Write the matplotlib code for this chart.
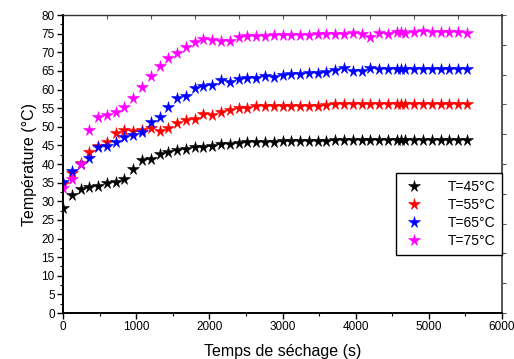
import matplotlib
matplotlib.use("Agg")
import matplotlib.pyplot as plt
from matplotlib.ticker import MultipleLocator

# drying time (s), one reading every 120 s plus an extra one at 4620 s
temps = [0, 120, 240, 360, 480, 600, 720, 840, 960, 1080, 1200, 1320, 1440,
         1560, 1680, 1800, 1920, 2040, 2160, 2280, 2400, 2520, 2640, 2760,
         2880, 3000, 3120, 3240, 3360, 3480, 3600, 3720, 3840, 3960, 4080,
         4200, 4320, 4440, 4560, 4620, 4680, 4800, 4920, 5040, 5160, 5280,
         5400, 5520]

t45 = [28.1, 31.7, 33.2, 33.7, 34.2, 35.0, 35.3, 35.9, 38.6, 41.1, 41.3, 42.6,
       43.1, 43.8, 44.0, 44.5, 44.7, 44.9, 45.3, 45.5, 45.7, 45.8, 45.9, 45.9,
       46.0, 46.1, 46.2, 46.2, 46.3, 46.3, 46.3, 46.4, 46.4, 46.4, 46.4, 46.5,
       46.5, 46.5, 46.5, 46.5, 46.5, 46.5, 46.5, 46.5, 46.5, 46.5, 46.5, 46.5]

t55 = [34.5, 37.5, 40.2, 43.3, 44.8, 46.0, 48.2, 49.0, 48.8, 49.2, 49.8, 48.9,
       49.8, 51.0, 51.8, 52.0, 53.4, 53.1, 54.0, 54.6, 55.0, 55.0, 55.7, 55.5,
       55.5, 55.5, 55.5, 55.6, 55.6, 55.6, 55.8, 56.1, 56.1, 56.1, 56.1, 56.1,
       56.2, 56.2, 56.2, 56.2, 56.2, 56.2, 56.2, 56.2, 56.2, 56.2, 56.2, 56.2]

t65 = [35.3, 38.0, 40.0, 41.7, 44.5, 44.9, 46.0, 47.2, 47.7, 48.7, 51.4, 52.7,
       55.4, 57.8, 58.3, 60.3, 60.9, 61.2, 62.5, 61.9, 62.8, 63.0, 63.2, 63.6,
       63.3, 63.9, 64.2, 64.1, 64.5, 64.5, 64.6, 65.2, 65.9, 65.1, 65.1, 65.7,
       65.5, 65.5, 65.5, 65.5, 65.5, 65.5, 65.5, 65.5, 65.5, 65.5, 65.5, 65.5]

t75 = [33.5, 36.0, 40.0, 49.1, 52.5, 53.2, 53.9, 55.4, 57.8, 60.6, 63.6, 66.3,
       68.5, 69.9, 71.5, 72.8, 73.5, 73.4, 73.0, 73.1, 74.0, 74.4, 74.4, 74.4,
       74.5, 74.5, 74.6, 74.6, 74.7, 74.8, 74.8, 74.9, 75.0, 75.1, 75.0, 74.2,
       75.2, 74.9, 75.4, 75.5, 75.3, 75.4, 75.8, 75.5, 75.4, 75.4, 75.4, 75.3]

series = [(t45, "black", "T=45°C"),
          (t55, "red", "T=55°C"),
          (t65, "blue", "T=65°C"),
          (t75, "magenta", "T=75°C")]

plt.rcParams["font.family"] = ["Liberation Sans", "DejaVu Sans"]

fig = plt.figure(figsize=(5.14, 3.59), dpi=100)
ax = fig.add_axes([0.1226, 0.1281, 0.8541, 0.8301])

for vals, col, lab in series:
    ax.plot(temps, vals, linestyle="none", marker="*", markersize=8.5,
            color=col, markeredgewidth=0.4, label=lab)

ax.set_xlim(0, 6000)
ax.set_ylim(0, 80)
ax.xaxis.set_major_locator(MultipleLocator(1000))
ax.xaxis.set_minor_locator(MultipleLocator(500))
ax.yaxis.set_major_locator(MultipleLocator(5))
ax.yaxis.set_minor_locator(MultipleLocator(2.5))
ax.tick_params(which="major", direction="out", length=4, width=1,
               labelsize=8.5, colors="black")
ax.tick_params(which="minor", direction="out", length=2.5, width=0.8)
ax.tick_params(axis="both", pad=2)

# Origin-style secondary axes with their own tick spacing
top = ax.secondary_xaxis("top")
top.xaxis.set_major_locator(MultipleLocator(600))
top.tick_params(direction="in", length=3, labeltop=False, color="#555555")
top.spines["top"].set_visible(False)
right = ax.secondary_yaxis("right")
right.yaxis.set_major_locator(MultipleLocator(8))
right.tick_params(direction="out", length=3, labelright=False, color="#555555")
right.spines["right"].set_visible(False)

for side in ["left", "bottom"]:
    ax.spines[side].set_linewidth(1.4)
    ax.spines[side].set_color("black")
ax.spines["top"].set_linewidth(1.0)
ax.spines["top"].set_color("#333333")
ax.spines["right"].set_linewidth(1.4)
ax.spines["right"].set_color("#555555")

ax.set_xlabel("Temps de séchage (s)", fontsize=11.5, labelpad=8)
ax.set_ylabel("Température (°C)", fontsize=11.5, labelpad=3)

leg = ax.legend(loc="upper right", bbox_to_anchor=(1.0, 0.471),
                borderaxespad=0, numpoints=1, fontsize=10, fancybox=False,
                edgecolor="black", framealpha=1, handletextpad=1.6,
                labelspacing=0.3, borderpad=0.5, handlelength=1.6)
leg.get_frame().set_linewidth(1.0)

fig.savefig("out.png", dpi=100)
